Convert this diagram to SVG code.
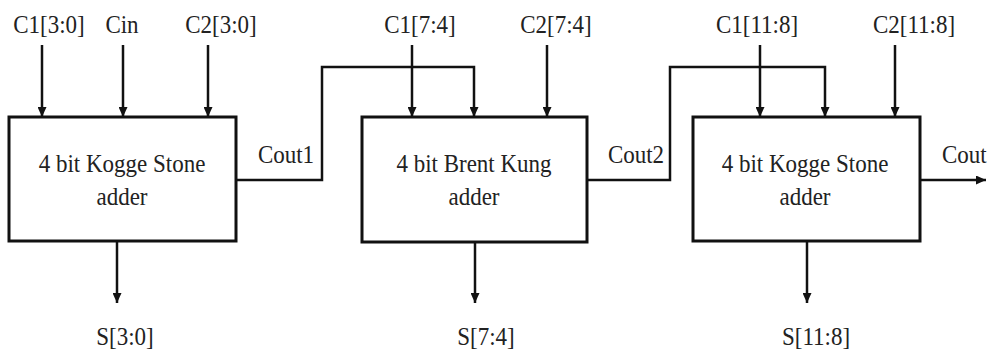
<svg xmlns="http://www.w3.org/2000/svg" width="987" height="353" viewBox="0 0 987 353">
  <defs>
    <marker id="arr" markerUnits="userSpaceOnUse" markerWidth="10" markerHeight="9" refX="10" refY="4.5" orient="auto">
      <path d="M0,0 L10,4.5 L0,9 z" fill="#111"/>
    </marker>
  </defs>
  <style>
    .box { fill: #fff; stroke: #111; stroke-width: 3; }
    .wire { fill: none; stroke: #111; stroke-width: 2.5; }
    .arw { marker-end: url(#arr); }
    .t { font-family: "Liberation Serif", "Times New Roman", serif; font-size: 25px; fill: #222; text-anchor: middle; }
    .st { text-anchor: start; }
  </style>
  <rect width="987" height="353" fill="#fff"/>

  <g id="connectors">
    <path class="wire arw" d="M42,45 V117"/>
    <path class="wire arw" d="M123,45 V117"/>
    <path class="wire arw" d="M208,45 V117"/>
    <path class="wire arw" d="M236,180 H322 V67 H474 V117"/>
    <path class="wire arw" d="M412,45 V117"/>
    <path class="wire arw" d="M547,45 V117"/>
    <path class="wire arw" d="M587,180 H670 V67 H825 V117"/>
    <path class="wire arw" d="M760,45 V117"/>
    <path class="wire arw" d="M895,45 V117"/>
    <path class="wire arw" d="M920,180 H986"/>
    <path class="wire arw" d="M117,241 V303"/>
    <path class="wire arw" d="M475,242 V303"/>
    <path class="wire arw" d="M807,241 V303"/>
  </g>

  <g id="adder1">
    <rect class="box" x="9" y="117" width="227" height="124"/>
    <text class="t" transform="translate(122,172) scale(0.92,1)">4 bit Kogge Stone</text>
    <text class="t" transform="translate(122,205) scale(0.92,1)">adder</text>
  </g>
  <g id="adder2">
    <rect class="box" x="362" y="117" width="225" height="125"/>
    <text class="t" transform="translate(474,172) scale(0.92,1)">4 bit Brent Kung</text>
    <text class="t" transform="translate(474,205) scale(0.92,1)">adder</text>
  </g>
  <g id="adder3">
    <rect class="box" x="693" y="117" width="227" height="124"/>
    <text class="t" transform="translate(805,172) scale(0.92,1)">4 bit Kogge Stone</text>
    <text class="t" transform="translate(805,205) scale(0.92,1)">adder</text>
  </g>

  <g id="labels">
    <text class="t" transform="translate(49,33) scale(0.92,1)">C1[3:0]</text>
    <text class="t" transform="translate(122,33) scale(0.92,1)">Cin</text>
    <text class="t" transform="translate(221,33) scale(0.92,1)">C2[3:0]</text>
    <text class="t" transform="translate(420,33) scale(0.92,1)">C1[7:4]</text>
    <text class="t" transform="translate(556,33) scale(0.92,1)">C2[7:4]</text>
    <text class="t" transform="translate(757,33) scale(0.92,1)">C1[11:8]</text>
    <text class="t" transform="translate(914,33) scale(0.92,1)">C2[11:8]</text>
    <text class="t" transform="translate(286,163) scale(0.92,1)">Cout1</text>
    <text class="t" transform="translate(636,163) scale(0.92,1)">Cout2</text>
    <text class="t st" transform="translate(942,163) scale(0.92,1)">Cout</text>
    <text class="t" transform="translate(125,345) scale(0.92,1)">S[3:0]</text>
    <text class="t" transform="translate(486,345) scale(0.92,1)">S[7:4]</text>
    <text class="t" transform="translate(816,345) scale(0.92,1)">S[11:8]</text>
  </g>
</svg>
